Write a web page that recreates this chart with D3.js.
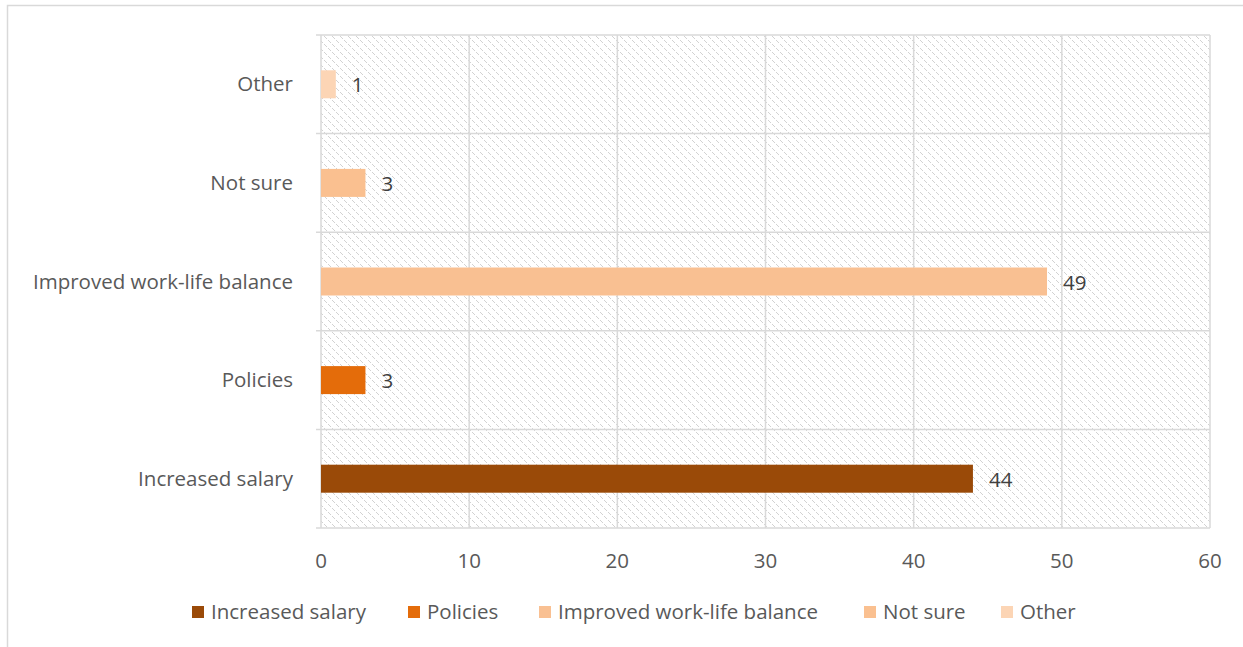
<!DOCTYPE html>
<html><head><meta charset="utf-8">
<script src="https://cdn.jsdelivr.net/npm/d3@7"></script>
<style>body{margin:0;background:#fff}svg{display:block}text{font-family:"Open Sans",Lato,sans-serif;fill:#595959}</style>
</head><body><svg id="c" width="1243" height="647"></svg>
<script>
const categories = ["Increased salary","Policies","Improved work-life balance","Not sure","Other"];
const values = [44,3,49,3,1];
const colors = ["#9A4A08","#E46C0A","#F9C092","#FAC090","#FCD5B5"];
const xTicks = [0,10,20,30,40,50,60];

const svg = d3.select("#c");
const m={l:321,r:1210,t:35,b:528};
const FS=20.5;

svg.append("rect").attr("x",7.5).attr("y",5.5).attr("width",1300).attr("height",700)
  .attr("fill","none").attr("stroke","#d9d9d9").attr("stroke-width",1.5);

const defs=svg.append("defs");
const pat=defs.append("pattern").attr("id","hatch").attr("patternUnits","userSpaceOnUse")
  .attr("width",8).attr("height",8);
[[0,0],[1,1],[2,2],[4,4],[5,5],[6,6]].forEach(([a,b])=>{
  pat.append("rect").attr("x",a).attr("y",b).attr("width",1).attr("height",1).attr("fill","#d2d2d2").attr("shape-rendering","crispEdges");
});

const x=d3.scaleLinear().domain([0,60]).range([m.l,m.r]);
const y=d3.scaleBand().domain(categories.slice().reverse()).range([m.t,m.b]);

svg.append("rect").attr("x",m.l).attr("y",m.t).attr("width",m.r-m.l).attr("height",m.b-m.t)
  .attr("fill","url(#hatch)");

svg.append("g").selectAll("line").data(xTicks).join("line")
  .attr("x1",d=>x(d)).attr("x2",d=>x(d)).attr("y1",m.t).attr("y2",m.b)
  .attr("stroke","#d9d9d9").attr("stroke-width",1.5);
const bounds=categories.map(c=>y(c)).concat([m.b]);
svg.append("g").selectAll("line").data(bounds).join("line")
  .attr("x1",m.l-5).attr("x2",m.r).attr("y1",d=>d).attr("y2",d=>d)
  .attr("stroke","#d9d9d9").attr("stroke-width",1.5);

const bh=28;
svg.append("g").selectAll("rect").data(categories).join("rect")
  .attr("x",x(0)).attr("y",(d)=>y(d)+y.bandwidth()/2-bh/2)
  .attr("width",(d,i)=>x(values[i])-x(0)).attr("height",bh)
  .attr("fill",(d,i)=>colors[i]);

svg.append("g").selectAll("text").data(categories).join("text")
  .attr("x",(d,i)=>x(values[i])+16).attr("y",d=>y(d)+y.bandwidth()/2+1)
  .attr("dy","0.35em").attr("font-size",FS).style("fill","#404040")
  .text((d,i)=>values[i]);

svg.append("g").selectAll("text").data(categories).join("text")
  .attr("x",m.l-28).attr("y",d=>y(d)+y.bandwidth()/2)
  .attr("dy","0.35em").attr("text-anchor","end").attr("font-size",FS)
  .text(d=>d);

svg.append("g").selectAll("text").data(xTicks).join("text")
  .attr("x",d=>x(d)).attr("y",561).attr("dy","0.35em").attr("text-anchor","middle")
  .attr("font-size",FS).text(d=>d);

const legX=[192,408,539,864,1001];
const lg=svg.append("g").selectAll("g").data(categories).join("g")
  .attr("transform",(d,i)=>`translate(${legX[i]},612)`);
lg.append("rect").attr("x",0).attr("y",-6).attr("width",12).attr("height",12).attr("fill",(d,i)=>colors[i]);
lg.append("text").attr("x",19).attr("y",0).attr("dy","0.35em").attr("font-size",FS).text(d=>d);
</script></body></html>
